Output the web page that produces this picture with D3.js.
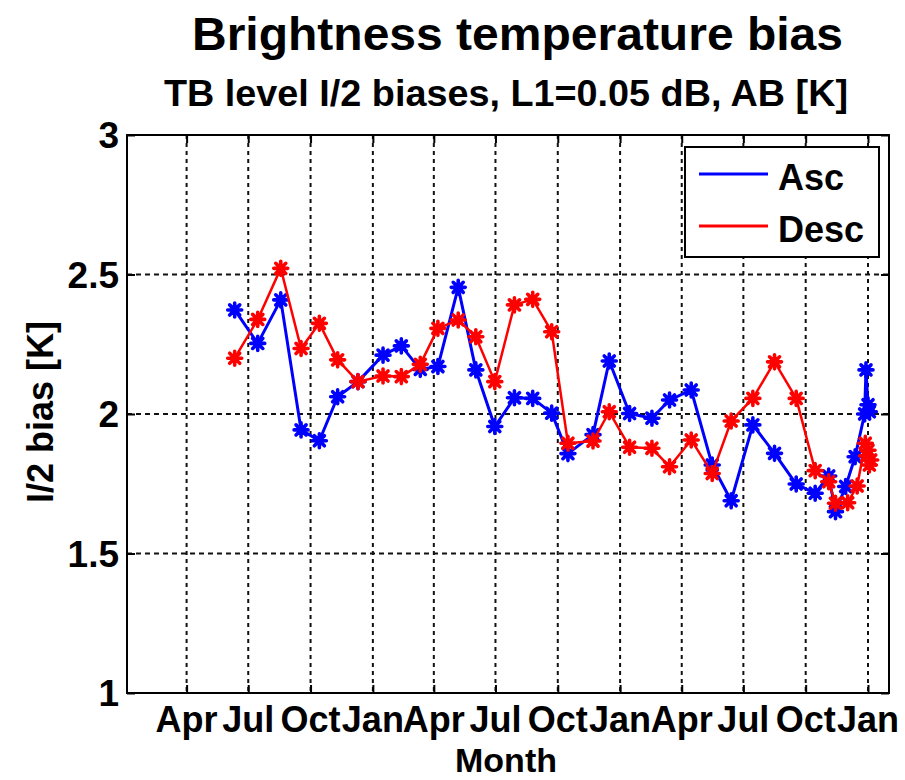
<!DOCTYPE html>
<html>
<head>
<meta charset="utf-8">
<script src="https://cdn.jsdelivr.net/npm/d3@7"></script>
<style>
  body { margin: 0; background: #fff; }
  text { font-family: "Liberation Sans", Arial, Helvetica, sans-serif; font-weight: bold; fill: #000; }
</style>
</head>
<body>
<svg id="chart" width="905" height="780"></svg>
<script>
// ---------- data ----------
const ascDates = ["2010-06-11","2010-07-15","2010-08-18","2010-09-17","2010-10-14","2010-11-10","2010-12-10",
  "2011-01-16","2011-02-12","2011-03-12","2011-04-07","2011-05-07","2011-06-02","2011-06-30","2011-07-29",
  "2011-08-25","2011-09-22","2011-10-16","2011-11-22","2011-12-16","2012-01-15","2012-02-17","2012-03-14",
  "2012-04-15","2012-05-16","2012-06-13","2012-07-15","2012-08-16","2012-09-17","2012-10-15","2012-11-04",
  "2012-11-14","2012-11-29","2012-12-13","2012-12-27","2012-12-29","2013-01-01","2013-01-03"];
const ascValues = [2.373,2.253,2.409,1.943,1.904,2.062,2.116,
  2.211,2.244,2.160,2.170,2.454,2.158,1.955,2.058,
  2.056,2.003,1.858,1.926,2.190,2.002,1.985,2.050,
  2.086,1.817,1.689,1.961,1.859,1.749,1.716,1.778,
  1.650,1.740,1.847,2.000,2.158,2.033,2.008];

const descDates = ["2010-06-11","2010-07-15","2010-08-18","2010-09-17","2010-10-14","2010-11-10","2010-12-10",
  "2011-01-16","2011-02-12","2011-03-12","2011-04-07","2011-05-07","2011-06-02","2011-06-30","2011-07-29",
  "2011-08-25","2011-09-22","2011-10-16","2011-11-22","2011-12-16","2012-01-15","2012-02-17","2012-03-14",
  "2012-04-15","2012-05-16","2012-06-13","2012-07-15","2012-08-16","2012-09-17","2012-10-15","2012-11-04",
  "2012-11-14","2012-12-02","2012-12-16","2012-12-28","2012-12-30","2013-01-01","2013-01-03","2013-01-05"];
const descValues = [2.200,2.339,2.522,2.235,2.325,2.194,2.116,
  2.136,2.134,2.178,2.307,2.337,2.277,2.116,2.391,
  2.411,2.295,1.895,1.903,2.008,1.881,1.877,1.811,
  1.907,1.787,1.975,2.056,2.187,2.056,1.797,1.757,
  1.680,1.682,1.742,1.895,1.850,1.870,1.817,1.835];

const xTickDates = ["2010-04-01","2010-07-01","2010-10-01","2011-01-01","2011-04-01","2011-07-01",
  "2011-10-01","2012-01-01","2012-04-01","2012-07-01","2012-10-01","2013-01-01"];
const xTickLabels = ["Apr","Jul","Oct","Jan","Apr","Jul","Oct","Jan","Apr","Jul","Oct","Jan"];
const yTicks = [1, 1.5, 2, 2.5, 3];
const yTickLabels = ["1","1.5","2","2.5","3"];
const seriesNames = ["Asc","Desc"];
const seriesColors = ["#0000ff","#ff0000"];

// ---------- layout ----------
const parse = d3.utcParse("%Y-%m-%d");
const L = 127, R = 889, T = 135, B = 693;
const svg = d3.select("#chart");

const x = d3.scaleUtc().domain([parse("2010-01-03"), parse("2013-02-01")]).range([L, R]);
const y = d3.scaleLinear().domain([1, 3]).range([B, T]);

// grid
const grid = svg.append("g");
grid.selectAll("line.vg").data(xTickDates).join("line")
  .attr("x1", d => x(parse(d))).attr("x2", d => x(parse(d)))
  .attr("y1", T).attr("y2", B)
  .attr("stroke", "#111").attr("stroke-width", 2).attr("stroke-dasharray", "4,4");
grid.selectAll("line.hg").data(yTicks.filter(v => v > 1 && v < 3)).join("line")
  .attr("x1", L).attr("x2", R)
  .attr("y1", d => y(d)).attr("y2", d => y(d))
  .attr("stroke", "#111").attr("stroke-width", 2).attr("stroke-dasharray", "5,4");

// axes (ticks inward, mirrored)
const tickLen = 8;
const xAxisB = d3.axisTop(x).tickValues(xTickDates.map(parse)).tickSize(tickLen).tickFormat("");
const xAxisT = d3.axisBottom(x).tickValues(xTickDates.map(parse)).tickSize(tickLen).tickFormat("");
const yAxisL = d3.axisRight(y).tickValues(yTicks).tickSize(tickLen).tickFormat("");
const yAxisR = d3.axisLeft(y).tickValues(yTicks).tickSize(tickLen).tickFormat("");
[[xAxisB, `translate(0,${B})`], [xAxisT, `translate(0,${T})`], [yAxisL, `translate(${L},0)`], [yAxisR, `translate(${R},0)`]]
  .forEach(([ax, tr]) => {
    const g = svg.append("g").attr("transform", tr).call(ax);
    g.select(".domain").remove();
    g.selectAll(".tick line").attr("stroke", "#000").attr("stroke-width", 2);
  });
svg.append("rect").attr("x", L).attr("y", T).attr("width", R - L).attr("height", B - T)
  .attr("fill", "none").attr("stroke", "#000").attr("stroke-width", 2);

// tick labels
svg.append("g").selectAll("text").data(xTickDates).join("text")
  .attr("x", d => x(parse(d))).attr("y", 732)
  .attr("text-anchor", "middle").attr("font-size", 36)
  .text((d, i) => xTickLabels[i]);
svg.append("g").selectAll("text").data(yTicks).join("text")
  .attr("x", 119).attr("y", d => y(d) + 13)
  .attr("text-anchor", "end").attr("font-size", 37)
  .text((d, i) => yTickLabels[i]);

// series
const asterisk = {
  draw(ctx, size) {
    const r = Math.sqrt(size) / 2, d = r * 0.72;
    ctx.moveTo(-r, 0); ctx.lineTo(r, 0);
    ctx.moveTo(0, -r); ctx.lineTo(0, r);
    ctx.moveTo(-d, -d); ctx.lineTo(d, d);
    ctx.moveTo(-d, d); ctx.lineTo(d, -d);
  }
};
const series = [
  { dates: ascDates, values: ascValues, color: seriesColors[0], w: 3 },
  { dates: descDates, values: descValues, color: seriesColors[1], w: 2.5 }
];
const line = d3.line().x(d => x(d.date)).y(d => y(d.v));
series.forEach(s => {
  const pts = s.dates.map((d, i) => ({ date: parse(d), v: s.values[i] }));
  svg.append("path").datum(pts).attr("d", line)
    .attr("fill", "none").attr("stroke", s.color).attr("stroke-width", s.w).attr("stroke-linejoin", "round");
  svg.append("g").selectAll("path").data(pts).join("path")
    .attr("transform", d => `translate(${x(d.date)},${y(d.v)})`)
    .attr("d", d3.symbol(asterisk, 196)())
    .attr("fill", "none").attr("stroke", s.color).attr("stroke-width", 3.6).attr("stroke-linecap", "round");
});

// legend
const lg = svg.append("g");
lg.append("rect").attr("x", 685).attr("y", 147).attr("width", 194).attr("height", 110)
  .attr("fill", "#fff").attr("stroke", "#000").attr("stroke-width", 2);
seriesNames.forEach((n, i) => {
  const yy = 174 + i * 52;
  lg.append("line").attr("x1", 699).attr("x2", 768).attr("y1", yy).attr("y2", yy)
    .attr("stroke", seriesColors[i]).attr("stroke-width", 3);
  lg.append("text").attr("x", 778).attr("y", yy + 16).attr("font-size", 36).text(n);
});

// titles
svg.append("text").attr("x", 192).attr("y", 50).attr("font-size", 47)
  .attr("textLength", 651).attr("lengthAdjust", "spacingAndGlyphs")
  .text("Brightness temperature bias");
svg.append("text").attr("x", 164).attr("y", 106).attr("font-size", 36)
  .attr("textLength", 684).attr("lengthAdjust", "spacingAndGlyphs")
  .text("TB level I/2 biases, L1=0.05 dB, AB [K]");
svg.append("text").attr("x", 506).attr("y", 772).attr("text-anchor", "middle").attr("font-size", 34).text("Month");
svg.append("text").attr("transform", "translate(53,412) rotate(-90)")
  .attr("text-anchor", "middle").attr("font-size", 36).text("I/2 bias [K]");
</script>
</body>
</html>
